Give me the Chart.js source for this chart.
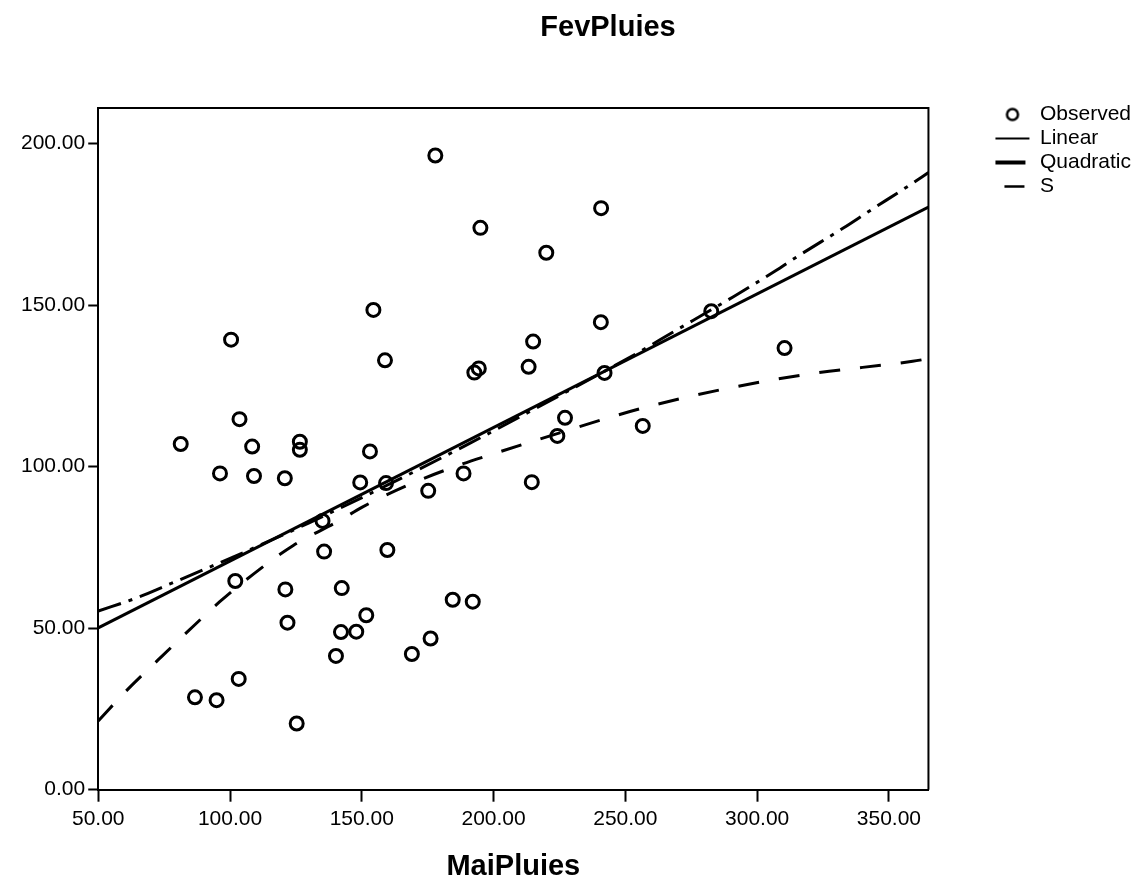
<!DOCTYPE html>
<html>
<head>
<meta charset="utf-8">
<title>FevPluies</title>
<script src="https://cdn.jsdelivr.net/npm/chart.js@4.4.1/dist/chart.umd.min.js"></script>
<style>
  html, body { margin: 0; padding: 0; background: #fff; }
  canvas { display: block; }
</style>
</head>
<body>
<canvas id="curveChart" width="1141" height="879"></canvas>
<script>
// Observed cases (MaiPluies on x, FevPluies on y)
const obsX = [103.6, 81.3, 108.4, 126.5, 126.5, 96.2, 109.1, 120.8, 149.4, 135.1,
              135.7, 102.0, 121.0, 142.4, 121.8, 142.1, 147.9, 140.2, 103.3, 86.7,
              94.9, 125.3, 153.1, 159.2, 175.2, 188.6, 214.5, 227.1, 224.2, 159.7,
              184.5, 192.1, 151.7, 176.1, 169.0, 177.9, 195.0, 220.0, 154.4, 100.4,
              158.8, 192.7, 194.4, 215.0, 213.3, 240.8, 240.7, 282.6, 310.4, 242.1,
              256.6];
const obsY = [114.7, 107.0, 106.2, 107.7, 105.2, 97.9, 97.1, 96.4, 95.1, 83.2,
              73.7, 64.6, 62.0, 62.4, 51.7, 48.8, 48.9, 41.4, 34.3, 28.6,
              27.7, 20.5, 104.7, 94.9, 92.5, 97.9, 95.2, 115.1, 109.5, 74.2,
              58.8, 58.2, 54.0, 46.8, 42.0, 196.3, 173.9, 166.2, 148.5, 139.3,
              132.9, 129.1, 130.4, 138.7, 130.9, 180.0, 144.7, 148.1, 136.7, 129.0,
              112.6];

// Fitted curves, values
const linX = [50, 365];
const linY = [50.1, 180.3];
const quadX = [50, 65, 77, 92, 104, 130, 160, 190, 220, 254, 268, 291, 307, 315, 333, 342, 358, 365];
const quadY = [55.3, 59.5, 63.6, 68.8, 73.0, 82.6, 94.4, 106.8, 119.8, 134.9, 141.6, 152.6, 160.6, 164.9, 174.0, 178.8, 187.2, 191.0];
const sX = [50, 61, 73, 84, 96, 109, 124, 142, 150, 169, 186, 202, 217, 256, 288, 319, 359, 365];
const sY = [21.3, 30.9, 40.4, 49.0, 58.1, 66.8, 75.6, 83.5, 87.4, 94.8, 100.2, 104.5, 108.4, 118.0, 124.1, 128.6, 132.6, 133.4];

const xTicks = [50, 100, 150, 200, 250, 300, 350];
const yTicks = [0, 50, 100, 150, 200];

const FONT = "'Liberation Sans', Arial, sans-serif";

function toPoints(xs, ys) {
    return xs.map((x, i) => ({ x: x, y: ys[i] }));
}

// small hollow circle used as the "Observed" legend symbol
function legendCircle() {
    const c = document.createElement('canvas');
    c.width = 18;
    c.height = 18;
    const g = c.getContext('2d');
    g.strokeStyle = '#000';
    g.lineWidth = 2.5;
    g.beginPath();
    g.arc(9, 9, 5.5, 0, Math.PI * 2);
    g.stroke();
    return c;
}

// top and right sides of the plot frame
const framePlugin = {
    id: 'frame',
    afterDatasetsDraw(chart) {
        const a = chart.chartArea;
        const ctx = chart.ctx;
        ctx.save();
        ctx.strokeStyle = '#000';
        ctx.lineWidth = 2;
        ctx.beginPath();
        ctx.moveTo(a.left, a.top);
        ctx.lineTo(a.right, a.top);
        ctx.lineTo(a.right, a.bottom);
        ctx.stroke();
        ctx.restore();
    }
};

// chart title, placed where the scan has it
const titlePlugin = {
    id: 'spssTitle',
    afterDraw(chart) {
        const ctx = chart.ctx;
        ctx.save();
        ctx.fillStyle = '#000';
        ctx.font = 'bold 29px ' + FONT;
        ctx.textAlign = 'center';
        ctx.textBaseline = 'middle';
        ctx.fillText('FevPluies', 608, 28);
        ctx.restore();
    }
};

const circleSymbol = legendCircle();

new Chart(document.getElementById('curveChart'), {
    type: 'scatter',
    data: {
        datasets: [
            {
                label: 'Observed',
                data: toPoints(obsX, obsY),
                showLine: false,
                pointStyle: 'circle',
                pointRadius: 6.5,
                pointBorderWidth: 3,
                pointBorderColor: '#000',
                pointBackgroundColor: 'rgba(0,0,0,0)',
                borderColor: '#000',
                backgroundColor: 'rgba(0,0,0,0)'
            },
            {
                label: 'Linear',
                data: toPoints(linX, linY),
                showLine: true,
                borderColor: '#000',
                borderWidth: 3,
                pointRadius: 0,
                fill: false
            },
            {
                label: 'Quadratic',
                data: toPoints(quadX, quadY),
                showLine: true,
                borderColor: '#000',
                borderWidth: 3,
                borderDash: [24, 8, 4, 8],
                cubicInterpolationMode: 'monotone',
                pointRadius: 0,
                fill: false
            },
            {
                label: 'S',
                data: toPoints(sX, sY),
                showLine: true,
                borderColor: '#000',
                borderWidth: 3,
                borderDash: [21, 20],
                cubicInterpolationMode: 'monotone',
                pointRadius: 0,
                fill: false
            }
        ]
    },
    options: {
        responsive: false,
        animation: false,
        events: [],
        layout: { padding: { top: 101, left: 18, right: 0, bottom: 0 } },
        scales: {
            x: {
                type: 'linear',
                min: 50,
                max: 365,
                afterBuildTicks(axis) { axis.ticks = xTicks.map(v => ({ value: v })); },
                ticks: {
                    callback: v => v.toFixed(2),
                    color: '#000',
                    font: { family: FONT, size: 21, lineHeight: 1.1 },
                    padding: 6,
                    maxRotation: 0,
                    autoSkip: false
                },
                grid: { display: true, drawOnChartArea: false, drawTicks: true, tickLength: 12, tickWidth: 2, tickColor: '#000', color: '#000' },
                border: { display: true, color: '#000', width: 2 },
                title: {
                    display: true,
                    text: 'MaiPluies',
                    color: '#000',
                    font: { family: FONT, size: 29, weight: 'bold', lineHeight: 0.8 },
                    padding: { top: 19, bottom: 0 }
                }
            },
            y: {
                type: 'linear',
                min: 0,
                max: 211,
                afterBuildTicks(axis) { axis.ticks = yTicks.map(v => ({ value: v })); },
                ticks: {
                    callback: v => v.toFixed(2),
                    color: '#000',
                    font: { family: FONT, size: 21 },
                    padding: 3,
                    autoSkip: false
                },
                grid: { display: true, drawOnChartArea: false, drawTicks: true, tickLength: 10, tickWidth: 2, tickColor: '#000', color: '#000' },
                border: { display: true, color: '#000', width: 2 }
            },
            // spacers: gap between plot and legend, and above the plot
            y2: {
                type: 'linear', axis: 'y', position: 'right', display: true,
                ticks: { display: false }, grid: { display: false }, border: { display: false },
                afterFit(s) { s.width = 64; }
            },
            x2: {
                type: 'linear', axis: 'x', position: 'top', display: true,
                ticks: { display: false }, grid: { display: false }, border: { display: false },
                afterFit(s) { s.height = 7; }
            }
        },
        plugins: {
            title: { display: false },
            tooltip: { enabled: false },
            legend: {
                position: 'right',
                align: 'start',
                labels: {
                    usePointStyle: true,
                    pointStyleWidth: 34,
                    padding: 3,
                    color: '#000',
                    font: { family: FONT, size: 21 },
                    generateLabels(chart) {
                        const items = Chart.defaults.plugins.legend.labels.generateLabels(chart);
                        items.forEach((it, i) => {
                            it.strokeStyle = '#000';
                            it.fillStyle = '#000';
                            if (i === 0) {
                                it.pointStyle = circleSymbol;
                            } else {
                                it.pointStyle = 'line';
                            }
                            if (i === 1) { it.lineWidth = 2; it.lineDash = []; }
                            if (i === 2) { it.lineWidth = 4; it.lineDash = [30, 100]; it.lineDashOffset = 0; }
                            if (i === 3) { it.lineWidth = 2.5; it.lineDash = [20, 100]; it.lineDashOffset = -9; }
                        });
                        return items;
                    }
                }
            }
        }
    },
    plugins: [framePlugin, titlePlugin]
});
</script>
</body>
</html>
